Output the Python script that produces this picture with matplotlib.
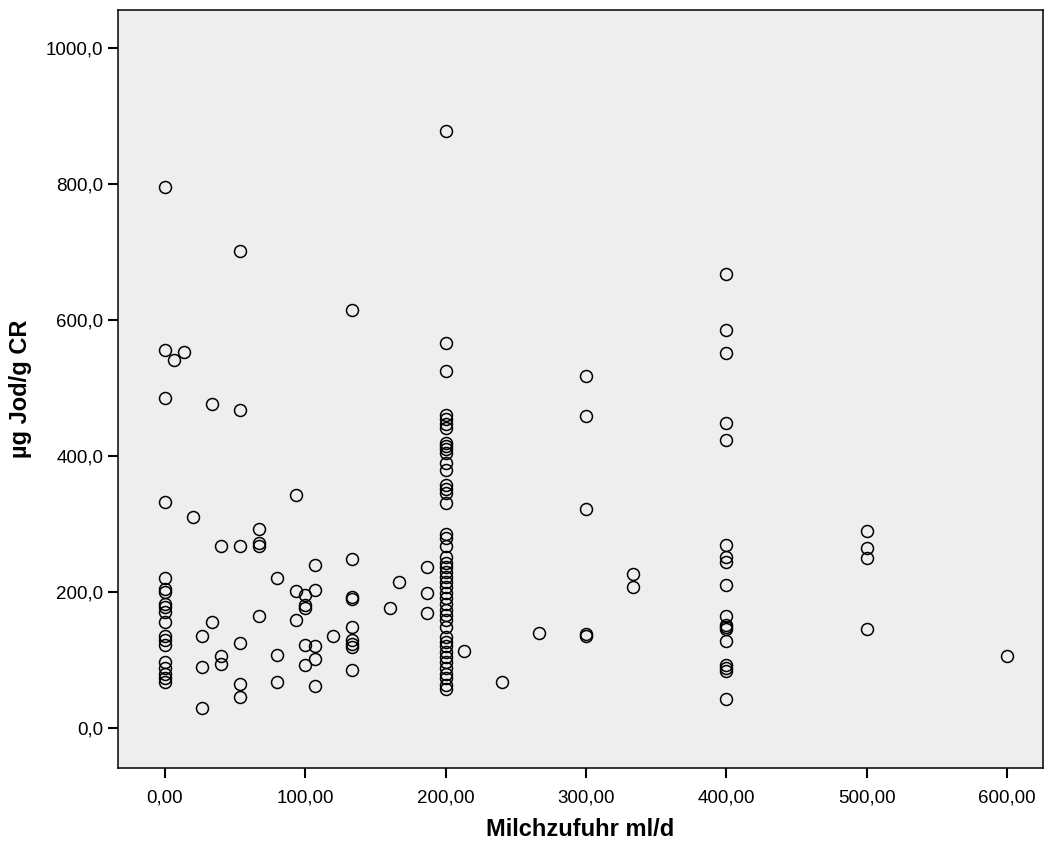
import numpy as np
import matplotlib
matplotlib.use("Agg")
import matplotlib.pyplot as plt
from matplotlib.ticker import FuncFormatter

plt.rcParams['font.family'] = ['Liberation Sans', 'DejaVu Sans']

# milk intake (ml/d) and iodine per g creatinine
x_0 = [0] * 17
y_0 = [795, 556, 486, 332, 220, 204, 200, 183, 178, 171, 156, 135, 129, 122, 97, 88, 80]
x_0b = [0, 0]
y_0b = [74, 67]

x_low = [6.7, 13.3, 20, 26.6, 26.6, 26.6, 33.3, 33.3, 40, 40, 40,
         53.3, 53.3, 53.3, 53.3, 53.3, 53.3, 66.6, 66.6, 66.6, 66.6,
         80, 80, 80, 93.3, 93.3, 93.3, 100, 100, 100, 100, 100,
         106.7, 106.7, 106.7, 106.7, 106.7, 120,
         133.3, 133.3, 133.3, 133.3, 133.3, 133.3, 133.3, 133.3, 133.3,
         160, 166.7, 186.7, 186.7, 186.7, 213.3, 240, 266.7]
y_low = [541, 553, 310, 136, 89, 29, 476, 156, 268, 106, 94,
         701, 467, 267, 125, 65, 46, 292, 272, 268, 164,
         220, 107, 67, 343, 202, 159, 195, 181, 176, 122, 92,
         239, 203, 121, 102, 62, 136,
         615, 249, 192, 190, 148, 129, 124, 119, 86,
         176, 215, 237, 198, 169, 113, 68, 139]

x_200 = [200] * 45
y_200 = [878, 566, 525, 461, 454, 447, 441, 419, 414, 410, 404, 389, 379,
         358, 352, 345, 331, 286, 279, 267, 252, 243, 237, 230, 222, 215,
         208, 198, 191, 183, 173, 166, 159, 149, 134, 127, 120, 112, 105,
         97, 88, 80, 73, 63, 57]

x_high = [300, 300, 300, 300, 300, 333.3, 333.3,
          400, 400, 400, 400, 400, 400, 400, 400, 400, 400, 400, 400, 400,
          400, 400, 400, 400, 400,
          500, 500, 500, 500, 600]
y_high = [518, 459, 322, 138, 136, 226, 207,
          667, 585, 551, 448, 423, 269, 251, 244, 210, 164, 152, 148, 146,
          128, 92, 88, 84, 42,
          290, 265, 250, 146, 106]

milk = np.array(x_0 + x_0b + x_low + x_200 + x_high, dtype=float)
jod = np.array(y_0 + y_0b + y_low + y_200 + y_high, dtype=float)

fig = plt.figure(figsize=(10.44, 8.43), dpi=100)
ax = fig.add_axes([118 / 1044, 1 - 768 / 843, (1043 - 118) / 1044, (768 - 10) / 843])
ax.set_facecolor('#eeeeee')

ax.plot(milk, jod, linestyle='none', marker='o', markersize=8.6,
        markerfacecolor='none', markeredgecolor='black', markeredgewidth=1.1)

ax.set_xlim(-33.5, 625.5)
ax.set_ylim(-58.8, 1055.9)
ax.set_xticks([0, 100, 200, 300, 400, 500, 600])
ax.set_yticks([0, 200, 400, 600, 800, 1000])
ax.xaxis.set_major_formatter(FuncFormatter(lambda v, p: f"{v:.2f}".replace('.', ',')))
ax.yaxis.set_major_formatter(FuncFormatter(lambda v, p: f"{v:.1f}".replace('.', ',')))
ax.tick_params(direction='out', length=7.5, width=1.5, labelsize=13.5, pad=3)
ax.tick_params(axis='x', pad=8)
for s in ax.spines.values():
    s.set_linewidth(1.1)

ax.set_xlabel('Milchzufuhr ml/d', fontsize=17, fontweight='bold', labelpad=8)
ax.set_ylabel('µg Jod/g CR', fontsize=17, fontweight='bold', labelpad=10)

fig.savefig('out.png', dpi=100)
